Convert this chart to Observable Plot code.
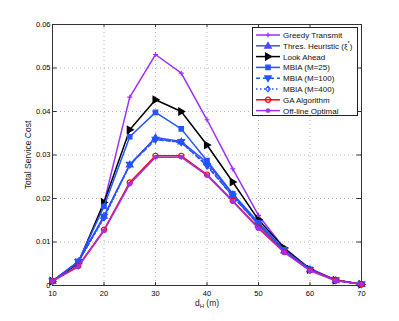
<!DOCTYPE html>
<html><head><meta charset="utf-8">
<script src="https://cdn.jsdelivr.net/npm/d3@7"></script>
<script src="https://cdn.jsdelivr.net/npm/@observablehq/plot@0.6"></script>
<style>
body{margin:0;background:#fff;font-family:"Liberation Sans",Arial,sans-serif;}
#chart{position:relative;width:399px;height:321px;}
</style></head><body><div id="chart"></div>
<script>
const dH = [10,15,20,25,30,35,40,45,50,55,60,65,70];
const greedy    = [0.0010,0.0050,0.0190,0.0433,0.0531,0.0488,0.0381,0.0268,0.0161,0.0086,0.0039,0.0013,0.0003];
const thres     = [0.0010,0.0055,0.0160,0.0278,0.0340,0.0331,0.0283,0.0209,0.0140,0.0080,0.0037,0.0012,0.0003];
const lookAhead = [0.0010,0.0052,0.0191,0.0358,0.0427,0.0400,0.0323,0.0238,0.0151,0.0086,0.0037,0.0012,0.0003];
const mbia25    = [0.0010,0.0055,0.0182,0.0342,0.0398,0.0360,0.0287,0.0211,0.0145,0.0082,0.0037,0.0012,0.0003];
const mbia100   = [0.0010,0.0054,0.0158,0.0278,0.0335,0.0330,0.0275,0.0205,0.0140,0.0080,0.0036,0.0012,0.0003];
const mbia400   = [0.0010,0.0054,0.0155,0.0277,0.0338,0.0328,0.0278,0.0205,0.0140,0.0080,0.0036,0.0012,0.0003];
const gaAlg     = [0.0010,0.0045,0.0128,0.0237,0.0298,0.0298,0.0255,0.0195,0.0133,0.0077,0.0035,0.0012,0.0003];
const offline   = [0.0010,0.0043,0.0126,0.0233,0.0295,0.0295,0.0253,0.0193,0.0131,0.0076,0.0034,0.0011,0.0003];
const xTicks = [10,20,30,40,50,60,70];
const yTicks = [0,0.01,0.02,0.03,0.04,0.05,0.06];

const rad = size => Math.sqrt(size/Math.PI);
const triRight = {draw(ctx, size){const r=rad(size); ctx.moveTo(r,0); ctx.lineTo(-r*0.7,-r); ctx.lineTo(-r*0.7,r); ctx.closePath();}};
const triDown = {draw(ctx, size){const r=rad(size); ctx.moveTo(0,r); ctx.lineTo(-r,-r*0.7); ctx.lineTo(r,-r*0.7); ctx.closePath();}};
const triUp = {draw(ctx, size){const r=rad(size); ctx.moveTo(0,-r); ctx.lineTo(-r,r*0.7); ctx.lineTo(r,r*0.7); ctx.closePath();}};
const sq = {draw(ctx, size){const r=rad(size); ctx.rect(-r,-r,2*r,2*r);}};
const dia = {draw(ctx, size){const r=rad(size); ctx.moveTo(0,-r); ctx.lineTo(r*0.8,0); ctx.lineTo(0,r); ctx.lineTo(-r*0.8,0); ctx.closePath();}};
const plus = {draw(ctx, size){const r=rad(size); ctx.moveTo(-r,0); ctx.lineTo(r,0); ctx.moveTo(0,-r); ctx.lineTo(0,r);}};
const circ = {draw(ctx, size){const r=rad(size); ctx.moveTo(r,0); ctx.arc(0,0,r,0,2*Math.PI);}};
const star = {draw(ctx, size){const r=rad(size); ctx.moveTo(-r,0); ctx.lineTo(r,0); ctx.moveTo(0,-r); ctx.lineTo(0,r); const k=r*0.7; ctx.moveTo(-k,-k); ctx.lineTo(k,k); ctx.moveTo(-k,k); ctx.lineTo(k,-k);}};

const series = [
  {name:"Greedy Transmit", vals:greedy, color:"#9b30ff", symbol:plus, dash:null, fill:false, r:2.5},
  {name:"Thres. Heuristic", vals:thres, color:"#4848ff", symbol:triUp, dash:null, fill:true, r:3.3},
  {name:"Look Ahead", vals:lookAhead, color:"#000000", symbol:triRight, dash:null, fill:true, r:3.5},
  {name:"MBIA (M=25)", vals:mbia25, color:"#2255ff", symbol:sq, dash:null, fill:true, r:2.2},
  {name:"MBIA (M=100)", vals:mbia100, color:"#2255ff", symbol:triDown, dash:"4,3", fill:true, r:3.3},
  {name:"MBIA (M=400)", vals:mbia400, color:"#2255ff", symbol:dia, dash:"1.5,2.5", fill:false, r:2.8},
  {name:"GA Algorithm", vals:gaAlg, color:"#ff0000", symbol:circ, dash:null, fill:false, r:2.6},
  {name:"Off-line Optimal", vals:offline, color:"#a030f0", symbol:star, dash:null, fill:false, r:2.5}
];

const marks = [
  Plot.gridX(xTicks, {stroke:"#999", strokeOpacity:0.9, strokeDasharray:"1,3", strokeWidth:0.8}),
  Plot.gridY(yTicks, {stroke:"#999", strokeOpacity:0.9, strokeDasharray:"1,3", strokeWidth:0.8}),
  Plot.frame({stroke:"#333", strokeWidth:1}),
  Plot.ruleX(xTicks, {y1:0, y2:0.0007, stroke:"#333"}),
  Plot.ruleX(xTicks, {y1:0.06, y2:0.0593, stroke:"#333"}),
  Plot.ruleY(yTicks, {x1:10, x2:10.9, stroke:"#333"}),
  Plot.ruleY(yTicks, {x1:70, x2:69.1, stroke:"#333"}),
  Plot.axisX(xTicks, {tickSize:0, tickPadding:5, fontSize:7.5, label:null}),
  Plot.axisY(yTicks, {tickSize:0, tickPadding:2, fontSize:7.5, label:null, tickFormat:d => d===0 ? "0" : d.toFixed(2)})
];
for (const s of series) {
  const data = dH.map((x,i)=>({x, y:s.vals[i]}));
  marks.push(Plot.line(data, {x:"x", y:"y", stroke:s.color, strokeWidth:1.5, strokeDasharray:s.dash}));
  marks.push(Plot.dot(data, {x:"x", y:"y", symbol:()=>s.symbol, r:s.r, stroke:s.color, strokeWidth:1.2, fill:s.fill ? s.color : "none"}));
}

const plot = Plot.plot({
  width:399, height:321,
  marginLeft:52, marginRight:38, marginTop:24, marginBottom:36,
  style:{fontFamily:"Liberation Sans, Arial, sans-serif", background:"#fff"},
  x:{domain:[10,70], axis:null},
  y:{domain:[0,0.06], axis:null},
  symbol:{type:"identity"},
  marks
});
document.getElementById("chart").appendChild(plot);

const svg = d3.select(plot);
const xl = svg.append("text").attr("x", 207).attr("y", 306).attr("text-anchor","middle").attr("font-size", 8.5).attr("fill","#222");
xl.append("tspan").text("d");
xl.append("tspan").attr("font-size",6).attr("dy",2).text("H");
xl.append("tspan").attr("dy",-2).text(" (m)");
svg.append("text").attr("transform","translate(31,155) rotate(-90)").attr("text-anchor","middle").attr("font-size",8.5).attr("fill","#222").text("Total Service Cost");

const lg = svg.append("g");
lg.append("rect").attr("x",252.5).attr("y",27.5).attr("width",105).attr("height",88).attr("fill","#fff").attr("stroke","#222");
series.forEach((s,i)=>{
  const y = 35 + i*10.8;
  lg.append("line").attr("x1",256).attr("x2",280).attr("y1",y).attr("y2",y).attr("stroke",s.color).attr("stroke-width",1.5).attr("stroke-dasharray",s.dash);
  lg.append("path").attr("transform",`translate(268,${y})`).attr("d", d3.symbol(s.symbol, Math.PI*s.r*s.r)()).attr("stroke",s.color).attr("stroke-width",1.2).attr("fill", s.fill ? s.color : "none");
  const t = lg.append("text").attr("x",283).attr("y",y+3).attr("text-anchor","start").attr("font-size",8).attr("fill","#111");
  if (s.name === "Thres. Heuristic") {
    t.append("tspan").text("Thres. Heuristic (ξ");
    t.append("tspan").attr("font-size",5.5).attr("dy",-4).text("*");
    t.append("tspan").attr("dy",4).text(")");
  } else t.text(s.name);
});
</script></body></html>
